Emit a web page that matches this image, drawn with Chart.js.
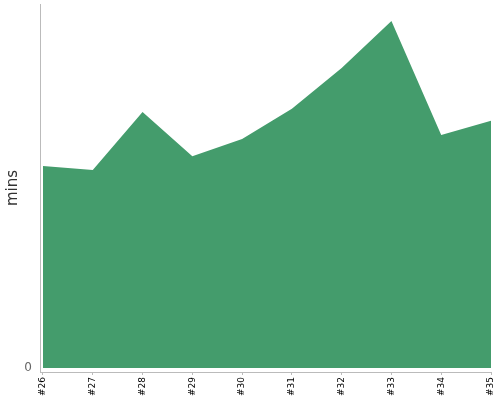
<!DOCTYPE html>
<html>
<head>
<meta charset="utf-8">
<script src="https://cdn.jsdelivr.net/npm/chart.js@4"></script>
<style>
  html, body { margin: 0; padding: 0; background: #fff; }
  #wrap { width: 500px; height: 400px; }
</style>
</head>
<body>
<div id="wrap"><canvas id="c" width="500" height="400"></canvas></div>
<script>
const categories = ['#26', '#27', '#28', '#29', '#30', '#31', '#32', '#33', '#34', '#35'];
const durations = [55.5, 54.4, 70.3, 58.2, 62.9, 71.2, 82.4, 95.3, 64.0, 67.9];
const yTickLabels = [0];

const points = categories.map((c, i) => ({ x: i, y: durations[i] }));

Chart.defaults.font.family = 'DejaVu Sans';

new Chart(document.getElementById('c'), {
  type: 'line',
  data: {
    datasets: [{
      data: points,
      fill: 'origin',
      backgroundColor: '#449c6c',
      borderWidth: 0,
      borderColor: 'rgba(0,0,0,0)',
      pointRadius: 0,
      tension: 0
    }]
  },
  options: {
    responsive: false,
    animation: false,
    layout: { padding: { top: 4, right: 9, left: 0, bottom: 0 } },
    plugins: { legend: { display: false }, tooltip: { enabled: false } },
    scales: {
      x: {
        type: 'linear',
        min: -0.06,
        max: categories.length - 1,
        afterBuildTicks: (s) => { s.ticks = categories.map((c, i) => ({ value: i })); },
        afterFit: (s) => { s.height = 28; s.paddingLeft = 0; s.paddingRight = 0; },
        grid: { drawOnChartArea: false, drawTicks: true, tickLength: 3, color: '#bbbbbb' },
        border: { color: '#bbbbbb' },
        ticks: {
          autoSkip: false,
          minRotation: 90,
          maxRotation: 90,
          padding: 2,
          color: '#000',
          font: { size: 9 },
          callback: (v) => categories[Math.round(v)]
        }
      },
      y: {
        min: -1.1,
        max: 100,
        afterBuildTicks: (s) => { s.ticks = yTickLabels.map(v => ({ value: v })); },
        afterFit: (s) => { s.width = 40; s.paddingTop = 0; s.paddingBottom = 0; },
        grid: { display: false, drawTicks: false },
        border: { color: '#bbbbbb' },
        title: { display: true, text: 'mins', color: '#333', font: { size: 15 }, padding: { top: 4, bottom: 0 } },
        ticks: { color: '#666', font: { size: 12 }, padding: 8 }
      }
    }
  }
});
</script>
</body>
</html>
